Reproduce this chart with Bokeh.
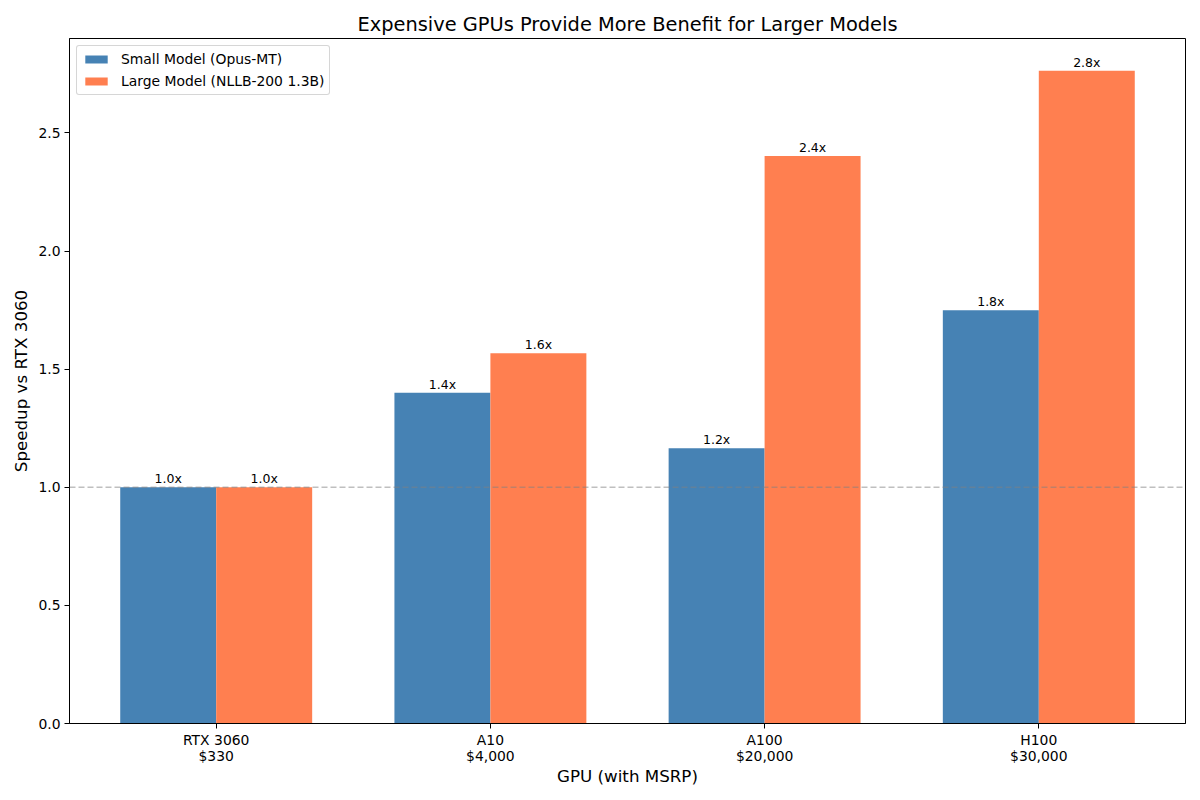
from bokeh.plotting import figure
from bokeh.models import ColumnDataSource, FixedTicker, Span, Range1d, Legend, LegendItem
from bokeh.transform import dodge
from bokeh.embed import file_html
from bokeh.resources import INLINE
from bokeh.core.properties import value

gpus = ["RTX 3060", "A10", "A100", "H100"]
prices = ["$330", "$4,000", "$20,000", "$30,000"]
small = [1.0, 1.40, 1.165, 1.75]
large = [1.0, 1.568, 2.403, 2.763]
small_labels = ["1.0x", "1.4x", "1.2x", "1.8x"]
large_labels = ["1.0x", "1.6x", "2.4x", "2.8x"]
y_ticks = [0.0, 0.5, 1.0, 1.5, 2.0, 2.5]

FONT = "DejaVu Sans"
BAR_W = 0.35

src = ColumnDataSource(dict(
    x=list(range(len(gpus))),
    small=small, large=large,
    small_lab=small_labels, large_lab=large_labels,
))

p = figure(
    frame_width=1116, frame_height=685,
    x_range=Range1d(-0.535, 3.535), y_range=Range1d(0, 2.9),
    output_backend="svg", toolbar_location=None,
    min_border_left=69, min_border_right=15, min_border_top=38, min_border_bottom=77,
    background_fill_color="white", border_fill_color="white",
)

p.title.text = "Expensive GPUs Provide More Benefit for Larger Models"
p.title.align = "center"
p.title.text_font = FONT
p.title.text_font_size = "19.4px"
p.title.text_font_style = "normal"
p.title.text_color = "black"
p.title.offset = 0
p.title.standoff = 5

r1 = p.vbar(x=dodge("x", -BAR_W / 2, range=p.x_range), top="small", width=BAR_W, bottom=0,
            source=src, fill_color="#4682B4", line_color=None)
r2 = p.vbar(x=dodge("x", BAR_W / 2, range=p.x_range), top="large", width=BAR_W, bottom=0,
            source=src, fill_color="#FF7F50", line_color=None)

p.text(x=dodge("x", -BAR_W / 2, range=p.x_range), y="small", text="small_lab", source=src,
       text_align="center", text_baseline="bottom", y_offset=-1,
       text_font=value(FONT), text_font_size="12.5px", text_color="black")
p.text(x=dodge("x", BAR_W / 2, range=p.x_range), y="large", text="large_lab", source=src,
       text_align="center", text_baseline="bottom", y_offset=-1,
       text_font=value(FONT), text_font_size="12.5px", text_color="black")

p.add_layout(Span(location=1.0, dimension="width", line_color="gray", line_alpha=0.5,
                  line_width=1.5, line_dash="6 3"))

p.xgrid.visible = False
p.ygrid.visible = False
p.outline_line_color = "black"
p.outline_line_alpha = 1.0
p.outline_line_width = 1

p.xaxis.ticker = FixedTicker(ticks=list(range(len(gpus))))
p.xaxis.major_label_overrides = {i: f"{g}\n{pr}" for i, (g, pr) in enumerate(zip(gpus, prices))}
p.yaxis.ticker = FixedTicker(ticks=y_ticks)
p.yaxis.major_label_overrides = {t: f"{t:.1f}" for t in y_ticks}
p.xaxis.axis_label = "GPU (with MSRP)"
p.yaxis.axis_label = "Speedup vs RTX 3060"

for ax in (p.xaxis[0], p.yaxis[0]):
    ax.axis_label_text_font = FONT
    ax.axis_label_text_font_size = "16.7px"
    ax.axis_label_text_font_style = "normal"
    ax.axis_label_text_color = "black"
    ax.major_label_text_font = FONT
    ax.major_label_text_font_size = "13.9px"
    ax.major_label_text_color = "black"
    ax.major_tick_in = 0
    ax.major_tick_out = 5
    ax.minor_tick_line_color = None
    ax.axis_line_color = "black"
    ax.major_tick_line_color = "black"
    ax.major_label_standoff = 4
    ax.axis_label_standoff = 6

p.yaxis[0].axis_label_standoff = 4
p.xaxis[0].major_label_text_line_height = 1.0
p.xaxis[0].major_label_standoff = 3
p.xaxis[0].axis_label_standoff = -1

legend = Legend(items=[
    LegendItem(label="Small Model (Opus-MT)", renderers=[r1]),
    LegendItem(label="Large Model (NLLB-200 1.3B)", renderers=[r2]),
], location="top_left")
legend.label_text_font = FONT
legend.label_text_font_size = "13.9px"
legend.label_text_color = "black"
legend.glyph_width = 28
legend.glyph_height = 10
legend.label_height = 14
legend.spacing = 6
legend.padding = 5
legend.margin = 7
legend.border_line_color = "#cccccc"
legend.border_line_alpha = 0.8
legend.border_radius = 3
legend.background_fill_alpha = 0.8
legend.label_standoff = 11
p.add_layout(legend)

open("out.html", "w").write(file_html(p, INLINE))
